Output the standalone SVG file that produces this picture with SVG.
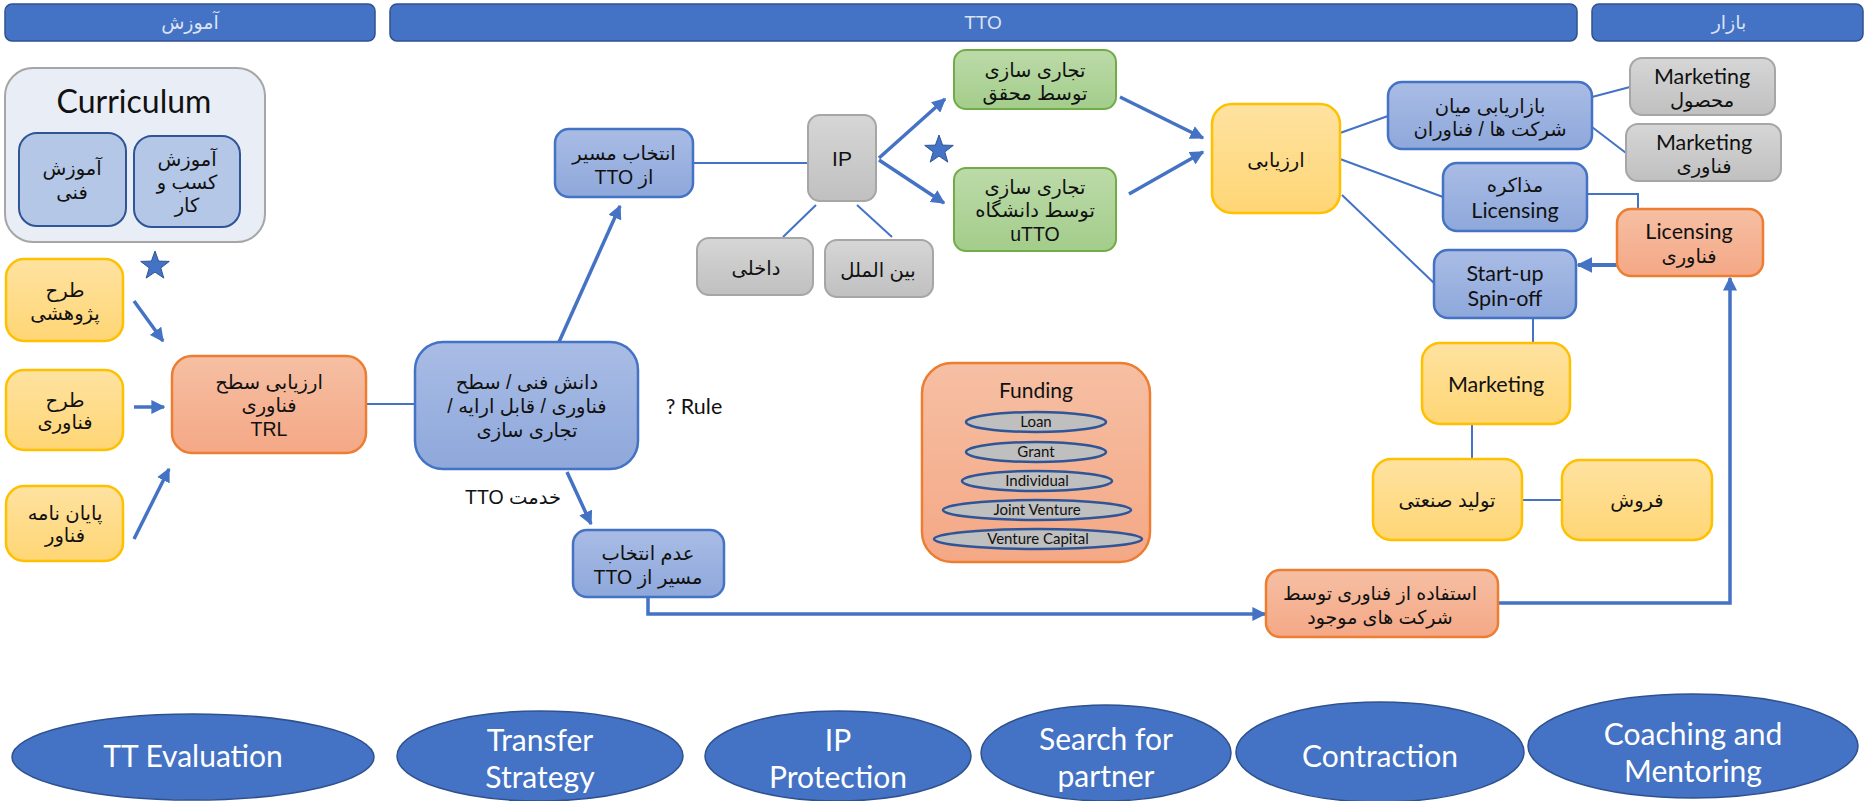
<svg xmlns="http://www.w3.org/2000/svg" width="1866" height="801" viewBox="0 0 1866 801">
<defs>
<style>
.fa{font-family:"Liberation Sans","DejaVu Sans",sans-serif;font-size:19.5px;fill:#111;text-anchor:middle;direction:rtl}
.en{font-family:Lato,"Open Sans",sans-serif;font-size:21.5px;fill:#111;text-anchor:middle}
.hdr{font-family:"Liberation Sans","DejaVu Sans",sans-serif;font-size:19px;fill:#dbe3f3;text-anchor:middle}
.bar{fill:#4472c4;stroke:#2f528f;stroke-width:1.5}
.blue{fill:url(#gBlue);stroke:#4472c4;stroke-width:2.5}
.orange{fill:url(#gOrange);stroke:#ed7d31;stroke-width:2.5}
.yellow{fill:url(#gYellow);stroke:#ffc000;stroke-width:2.5}
.gray{fill:url(#gGray);stroke:#a6a6a6;stroke-width:2}
.green{fill:url(#gGreen);stroke:#70ad47;stroke-width:2}
.inner{fill:#b4c7e7;stroke:#2f5597;stroke-width:2}
.fund{fill:#bfbfbf;stroke:#2f5597;stroke-width:2.5}
.fundt{font-family:Lato,"Open Sans",sans-serif;font-size:15px;fill:#111;text-anchor:middle}
.oval{fill:#4472c4;stroke:#2f528f;stroke-width:1.5}
.ovt{font-family:Lato,"Open Sans",sans-serif;font-size:30px;fill:#fff;text-anchor:middle}
.ln{fill:none;stroke:#4472c4;stroke-width:2}
.ar{fill:none;stroke:#4472c4;stroke-width:3.5;marker-end:url(#ah)}
.star{fill:#4472c4;stroke:#2f5597;stroke-width:1}
</style>
<linearGradient id="gBlue" x1="0" y1="0" x2="0" y2="1"><stop offset="0" stop-color="#a9bce5"/><stop offset="1" stop-color="#8ea8db"/></linearGradient>
<linearGradient id="gOrange" x1="0" y1="0" x2="0" y2="1"><stop offset="0" stop-color="#f6bfa3"/><stop offset="1" stop-color="#f4a886"/></linearGradient>
<linearGradient id="gYellow" x1="0" y1="0" x2="0" y2="1"><stop offset="0" stop-color="#fee2a0"/><stop offset="1" stop-color="#ffd675"/></linearGradient>
<linearGradient id="gGray" x1="0" y1="0" x2="0" y2="1"><stop offset="0" stop-color="#d6d6d6"/><stop offset="1" stop-color="#c0c0c0"/></linearGradient>
<linearGradient id="gGreen" x1="0" y1="0" x2="0" y2="1"><stop offset="0" stop-color="#bcdaa9"/><stop offset="1" stop-color="#a3cd8b"/></linearGradient>
<marker id="ah" viewBox="0 0 10 10" refX="9" refY="5" markerWidth="4" markerHeight="4" orient="auto" markerUnits="strokeWidth"><path d="M0,0 L10,5 L0,10 z" fill="#4472c4"/></marker>
<polygon id="star" points="0,-15 3.6,-4.9 14.3,-4.6 5.8,1.9 8.8,12.1 0,6.1 -8.8,12.1 -5.8,1.9 -14.3,-4.6 -3.6,-4.9"/>
</defs>

<g id="headers">
<rect class="bar" x="5" y="4" width="370" height="37" rx="7"/>
<text class="hdr" x="190" y="29" direction="rtl">آموزش</text>
<rect class="bar" x="390" y="4" width="1187" height="37" rx="7"/>
<text class="hdr" x="983" y="29">TTO</text>
<rect class="bar" x="1592" y="4" width="271" height="37" rx="7"/>
<text class="hdr" x="1729" y="29" direction="rtl">بازار</text>
</g>

<g id="connectors">
<line class="ar" x1="134" y1="301" x2="163" y2="341"/>
<line class="ar" x1="134" y1="407" x2="164" y2="407"/>
<line class="ar" x1="134" y1="539" x2="169" y2="469"/>
<line class="ln" x1="366" y1="404" x2="415" y2="404"/>
<line class="ar" x1="559" y1="342" x2="620" y2="206"/>
<line class="ar" x1="567" y1="472" x2="591" y2="524"/>
<line class="ln" x1="693" y1="163" x2="808" y2="163"/>
<line class="ln" x1="816" y1="205" x2="783" y2="237"/>
<line class="ln" x1="857" y1="205" x2="892" y2="237"/>
<line class="ar" x1="879" y1="158" x2="945" y2="99"/>
<line class="ar" x1="879" y1="160" x2="944" y2="203"/>
<line class="ar" x1="1120" y1="97" x2="1203" y2="138"/>
<line class="ar" x1="1129" y1="194" x2="1203" y2="152"/>
<line class="ln" x1="1340" y1="133" x2="1388" y2="116"/>
<line class="ln" x1="1340" y1="159" x2="1443" y2="197"/>
<line class="ln" x1="1342" y1="195" x2="1435" y2="284"/>
<line class="ln" x1="1592" y1="97" x2="1630" y2="87"/>
<line class="ln" x1="1592" y1="127" x2="1626" y2="153"/>
<polyline class="ln" points="1587,194 1638,194 1638,209"/>
<line class="ar" x1="1617" y1="265" x2="1578" y2="265" style="stroke-width:4"/>
<line class="ln" x1="1533" y1="318" x2="1533" y2="343"/>
<line class="ln" x1="1472" y1="424" x2="1472" y2="459"/>
<line class="ln" x1="1522" y1="500" x2="1562" y2="500"/>
<polyline class="ar" points="648,597 648,614 1265,614"/>
<polyline class="ar" points="1498,603 1730,603 1730,278"/>
</g>

<g id="curriculum">
<rect x="5" y="68" width="260" height="174" rx="28" fill="#e8edf6" stroke="#a6a6a6" stroke-width="2"/>
<text x="134" y="113" font-family="Lato,'Open Sans',sans-serif" font-size="32" fill="#111" text-anchor="middle">Curriculum</text>
</g>
<g id="n-amoozesh-fanni">
<rect class="inner" x="19" y="133" width="107" height="93" rx="18"/>
<text class="fa" x="72" y="175">آموزش</text>
<text class="fa" x="72" y="199">فنی</text>
</g>
<g id="n-amoozesh-kasb">
<rect class="inner" x="134" y="136" width="106" height="91" rx="18"/>
<text class="fa" x="187" y="166">آموزش</text>
<text class="fa" x="187" y="189">کسب و</text>
<text class="fa" x="187" y="212">کار</text>
</g>

<g id="stars">
<use href="#star" class="star" x="155" y="266"/>
<use href="#star" class="star" x="939" y="150"/>
<use href="#star" class="star" x="946" y="386"/>
</g>

<g id="n-tarh-pazhoheshi">
<rect class="yellow" x="6" y="259" width="117" height="82" rx="18"/>
<text class="fa" x="65" y="297">طرح</text>
<text class="fa" x="65" y="320">پژوهشی</text>
</g>
<g id="n-tarh-fanavari">
<rect class="yellow" x="6" y="370" width="117" height="80" rx="18"/>
<text class="fa" x="65" y="407">طرح</text>
<text class="fa" x="65" y="429">فناوری</text>
</g>
<g id="n-payan-nameh">
<rect class="yellow" x="6" y="486" width="117" height="75" rx="18"/>
<text class="fa" x="65" y="520">پایان نامه</text>
<text class="fa" x="65" y="542">فناور</text>
</g>

<g id="n-trl">
<rect class="orange" x="172" y="356" width="194" height="97" rx="20"/>
<text class="fa" x="269" y="389">ارزیابی سطح</text>
<text class="fa" x="269" y="412">فناوری</text>
<text class="fa" x="269" y="436" style="direction:ltr">TRL</text>
</g>

<g id="n-danesh">
<rect class="blue" x="415" y="342" width="223" height="127" rx="28"/>
<text class="fa" x="527" y="389">دانش فنی / سطح</text>
<text class="fa" x="527" y="413">فناوری / قابل ارایه /</text>
<text class="fa" x="527" y="437">تجاری سازی</text>
</g>

<g id="labels">
<text class="en" x="694" y="414">? Rule</text>
<text class="fa" x="513" y="504">خدمت TTO</text>
</g>

<g id="n-entekhab">
<rect class="blue" x="555" y="129" width="138" height="68" rx="14"/>
<text class="fa" x="624" y="160">انتخاب مسیر</text>
<text class="fa" x="624" y="184">از TTO</text>
</g>

<g id="n-adam">
<rect class="blue" x="573" y="530" width="151" height="67" rx="14"/>
<text class="fa" x="648" y="560">عدم انتخاب</text>
<text class="fa" x="648" y="584">مسیر از TTO</text>
</g>

<g id="n-ip">
<rect class="gray" x="808" y="115" width="68" height="86" rx="12"/>
<text class="fa" x="842" y="166" style="direction:ltr;font-size:21px">IP</text>
</g>
<g id="n-dakheli">
<rect class="gray" x="697" y="238" width="116" height="57" rx="12"/>
<text class="fa" x="756" y="275">داخلی</text>
</g>
<g id="n-beynolmelal">
<rect class="gray" x="825" y="240" width="108" height="57" rx="12"/>
<text class="fa" x="878" y="277">بین الملل</text>
</g>

<g id="n-tejari-mohaghegh">
<rect class="green" x="954" y="50" width="162" height="59" rx="12"/>
<text class="fa" x="1035" y="77">تجاری سازی</text>
<text class="fa" x="1035" y="100">توسط محقق</text>
</g>
<g id="n-tejari-daneshgah">
<rect class="green" x="954" y="168" width="162" height="83" rx="12"/>
<text class="fa" x="1035" y="194">تجاری سازی</text>
<text class="fa" x="1035" y="217">توسط دانشگاه</text>
<text class="fa" x="1035" y="241" style="direction:ltr">uTTO</text>
</g>

<g id="n-arzyabi">
<rect class="yellow" x="1212" y="104" width="128" height="109" rx="20"/>
<text class="fa" x="1276" y="167">ارزیابی</text>
</g>

<g id="n-bazaryabi">
<rect class="blue" x="1388" y="82" width="204" height="67" rx="14"/>
<text class="fa" x="1490" y="113">بازاریابی میان</text>
<text class="fa" x="1490" y="136">شرکت ها / فناوران</text>
</g>
<g id="n-marketing-mahsool">
<rect class="gray" x="1630" y="58" width="145" height="57" rx="12"/>
<text class="en" x="1702" y="84">Marketing</text>
<text class="fa" x="1702" y="107">محصول</text>
</g>
<g id="n-marketing-fanavari">
<rect class="gray" x="1626" y="124" width="155" height="57" rx="12"/>
<text class="en" x="1704" y="150">Marketing</text>
<text class="fa" x="1704" y="173">فناوری</text>
</g>
<g id="n-mozakereh">
<rect class="blue" x="1443" y="163" width="144" height="68" rx="14"/>
<text class="fa" x="1515" y="192">مذاکره</text>
<text class="en" x="1515" y="218">Licensing</text>
</g>
<g id="n-licensing">
<rect class="orange" x="1617" y="209" width="146" height="67" rx="14"/>
<text class="en" x="1689" y="239">Licensing</text>
<text class="fa" x="1689" y="263">فناوری</text>
</g>
<g id="n-startup">
<rect class="blue" x="1434" y="250" width="142" height="68" rx="14"/>
<text class="en" x="1505" y="281">Start-up</text>
<text class="en" x="1505" y="306">Spin-off</text>
</g>
<g id="n-marketing">
<rect class="yellow" x="1422" y="343" width="148" height="81" rx="18"/>
<text class="en" x="1496" y="392">Marketing</text>
</g>
<g id="n-tolid">
<rect class="yellow" x="1373" y="459" width="149" height="81" rx="18"/>
<text class="fa" x="1447" y="507">تولید صنعتی</text>
</g>
<g id="n-foroosh">
<rect class="yellow" x="1562" y="460" width="150" height="80" rx="18"/>
<text class="fa" x="1637" y="507">فروش</text>
</g>
<g id="n-estefadeh">
<rect class="orange" x="1266" y="570" width="232" height="67" rx="14"/>
<text class="fa" x="1380" y="600" style="font-size:19px">استفاده از فناوری توسط</text>
<text class="fa" x="1380" y="624" style="font-size:19px">شرکت های موجود</text>
</g>

<g id="n-funding">
<rect class="orange" x="922" y="363" width="228" height="199" rx="30"/>
<text class="en" x="1036" y="398" style="font-size:21px">Funding</text>
<ellipse class="fund" cx="1036" cy="422" rx="70" ry="10"/>
<text class="fundt" x="1036" y="427">Loan</text>
<ellipse class="fund" cx="1036" cy="452" rx="70" ry="10"/>
<text class="fundt" x="1036" y="457">Grant</text>
<ellipse class="fund" cx="1037" cy="481" rx="75" ry="10"/>
<text class="fundt" x="1037" y="486">Individual</text>
<ellipse class="fund" cx="1037" cy="510" rx="94" ry="10"/>
<text class="fundt" x="1037" y="515">Joint Venture</text>
<ellipse class="fund" cx="1038" cy="539" rx="104" ry="10"/>
<text class="fundt" x="1038" y="544">Venture Capital</text>
</g>

<g id="n-tt-evaluation">
<ellipse class="oval" cx="193" cy="757" rx="181" ry="43"/>
<text class="ovt" x="193" y="767">TT Evaluation</text>
</g>
<g id="n-transfer">
<ellipse class="oval" cx="540" cy="756" rx="143" ry="45"/>
<text class="ovt" x="540" y="751">Transfer</text>
<text class="ovt" x="540" y="788">Strategy</text>
</g>
<g id="n-ip-protection">
<ellipse class="oval" cx="838" cy="756" rx="133" ry="45"/>
<text class="ovt" x="838" y="751">IP</text>
<text class="ovt" x="838" y="788">Protection</text>
</g>
<g id="n-search">
<ellipse class="oval" cx="1106" cy="753" rx="125" ry="48"/>
<text class="ovt" x="1106" y="750">Search for</text>
<text class="ovt" x="1106" y="787">partner</text>
</g>
<g id="n-contraction">
<ellipse class="oval" cx="1380" cy="752" rx="144" ry="50"/>
<text class="ovt" x="1380" y="767">Contraction</text>
</g>
<g id="n-coaching">
<ellipse class="oval" cx="1693" cy="746" rx="165" ry="52"/>
<text class="ovt" x="1693" y="745">Coaching and</text>
<text class="ovt" x="1693" y="782">Mentoring</text>
</g>
</svg>
